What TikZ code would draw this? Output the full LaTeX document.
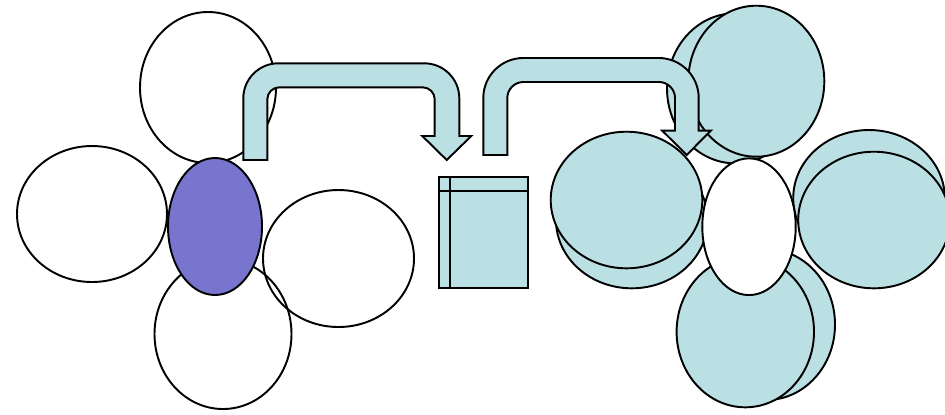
\documentclass[tikz,border=0pt]{standalone}
\usetikzlibrary{shapes.geometric,calc}
\definecolor{pale}{RGB}{187,224,227}
\definecolor{violet}{RGB}{119,117,206}
\begin{document}
\begin{tikzpicture}[x=0.02cm,y=-0.02cm,line width=1.1pt,
  blob/.style 2 args={ellipse,draw=black,inner sep=0pt,outer sep=0pt,
    minimum width=#1*0.02cm,minimum height=#2*0.02cm},
  open/.style={},
  filled/.style={fill=pale},
  blockarrow/.style={draw=black,fill=pale,line join=miter}]
\useasboundingbox[fill=white] (0,0) rectangle (945,414);

% ---- left cluster ----
\node[blob={136}{151},open] (ltop) at (208,87.5) {};
\node[blob={150}{136},open] (lleft) at (92,214) {};
\node[blob={151}{137},open] (lright) at (338.5,258.5) {};
\node[blob={137}{150},open] (lbot) at (223,334) {};
\node[blob={94}{137},fill=violet] (lcen) at (215,226.5) {};

% ---- middle box ----
\node[draw=black,fill=pale,rectangle,inner sep=0pt,outer sep=0pt,
  minimum width=89*0.02cm,minimum height=110.7*0.02cm] (box) at (483.2,232.65) {};
\draw ($(box.north west)+(11,0)$) -- ($(box.south west)+(11,0)$);
\draw ($(box.north west)+(0,14)$) -- ($(box.north east)+(0,14)$);

% ---- arrow 1 ----
\draw[blockarrow] (243.3,160) -- (243.3,98.3)
  .. controls (243.3,79) and (259,63.3) .. (278.3,63.3)
  -- (424.3,63.3) .. controls (443.6,63.3) and (459.3,79) .. (459.3,98.3)
  -- (459.3,136) -- (471.3,136) -- (446.7,160) -- (422.3,136) -- (434.7,136)
  -- (434.7,99.3) .. controls (434.7,92.7) and (429.3,87.3) .. (422.7,87.3)
  -- (279.3,87.3) .. controls (272.7,87.3) and (267.3,92.7) .. (267.3,99.3)
  -- (267.3,160) -- cycle;

% ---- right cluster, top ----
\node[blob={136}{150},filled] (rtopb) at (735,88.3) {};
\node[blob={136}{151},filled] (rtopf) at (756.3,81.2) {};

% ---- arrow 2 ----
\draw[blockarrow] (483.3,155) -- (483.3,98)
  .. controls (483.3,75.9) and (501.2,58) .. (523.3,58)
  -- (658.7,58) .. controls (680.8,58) and (698.7,75.9) .. (698.7,98)
  -- (698.7,130.7) -- (710.7,130.7) -- (686.7,155) -- (662.3,130.7) -- (675,130.7)
  -- (675,98) .. controls (675,89.2) and (667.8,82) .. (659,82)
  -- (523.3,82) .. controls (514.5,82) and (507.3,89.2) .. (507.3,98)
  -- (507.3,155) -- cycle;

% ---- right cluster, rest ----
\node[blob={151.6}{136.6},filled] (rleftb) at (631.8,220) {};
\node[blob={151.6}{136.6},filled] (rleftf) at (626.5,200) {};
\node[blob={151.6}{136.6},filled] (rrightb) at (869,198.3) {};
\node[blob={151.6}{136.6},filled] (rrightf) at (874,220) {};
\node[blob={137.4}{151},filled] (rbotb) at (766.3,324.5) {};
\node[blob={137.4}{151},filled] (rbotf) at (745.3,331.8) {};
\node[blob={93.4}{136.7},fill=white] (rcen) at (749,226.7) {};
\end{tikzpicture}
\end{document}
